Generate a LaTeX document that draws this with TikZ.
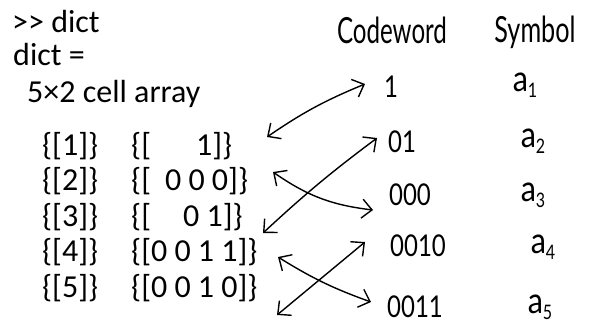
\documentclass[tikz,border=0pt]{standalone}
\usepackage{fontspec}
\setmainfont{Carlito}
\newfontfamily\hand{Lato}
\usetikzlibrary{arrows.meta}
\newcommand\hsq[2]{\scalebox{#1}[1]{#2}}
\newcommand\sym[1]{\hsq{0.85}{a}\raisebox{-0.35ex}{\fontsize{20}{20}\selectfont\hsq{0.8}{#1}}}
\begin{document}
\begin{tikzpicture}[x=1pt,y=-1pt,
  mono/.style={anchor=base west,inner sep=0pt,font=\fontsize{32}{32}\selectfont},
  hw/.style={inner sep=0pt,font=\hand\fontsize{30}{30}\selectfont},
  hd/.style={inner sep=0pt,font=\hand\fontsize{36}{36}\selectfont},
  hs/.style={inner sep=0pt,font=\hand\fontsize{36}{36}\selectfont},
  link/.style={line width=1.4pt,line cap=round,
    {Straight Barb[length=10pt,width=19pt,line width=1.4pt]}-{Straight Barb[length=10pt,width=19pt,line width=1.4pt]}}]
\useasboundingbox (0,0) rectangle (593,325);
% console text
\node[mono] (cmd) at (12,32) {>{}> dict};
\node[mono] (eq) at (13,65) {dict =};
\node[mono] (size) at (27,102) {5×2 cell array};
\node[mono] (k1) at (42,155) {\{[1]\}};
\node[mono] (k2) at (42,190) {\{[2]\}};
\node[mono] (k3) at (42,226) {\{[3]\}};
\node[mono] (k4) at (42,261) {\{[4]\}};
\node[mono] (k5) at (42,297) {\{[5]\}};
\node[mono] (v1) at (131,155) {\{[\hspace{45pt}1]\}};
\node[mono] (v2) at (131,190) {\{[\hspace{14pt}0 0 0]\}};
\node[mono] (v3) at (131,226) {\{[\hspace{32pt}0 1]\}};
\node[mono] (v4) at (131,261) {\{[0 0 1 1]\}};
\node[mono] (v5) at (131,297) {\{[0 0 1 0]\}};
% handwritten table
\node[hd] (hcode) at (392,30) {\hsq{0.67}{Codeword}};
\node[hd] (hsym) at (535,32) {\hsq{0.7}{Symbol}};
\node[hw] (c1) at (391,87) {\hsq{0.8}{1}};
\node[hw] (c2) at (402,142) {\hsq{0.8}{01}};
\node[hw] (c3) at (410,195) {\hsq{0.8}{000}};
\node[hw] (c4) at (418,246) {\hsq{0.8}{0010}};
\node[hw] (c5) at (415,307) {\hsq{0.8}{0011}};
\node[hs] (s1) at (525,85) {\sym{1}};
\node[hs] (s2) at (533,141) {\sym{2}};
\node[hs] (s3) at (533,195) {\sym{3}};
\node[hs] (s4) at (543,247) {\sym{4}};
\node[hs] (s5) at (540,307) {\sym{5}};
% arrow end points
\coordinate (pA1) at (267,137);
\coordinate (pA2) at (365,84);
\coordinate (pB1) at (263,233);
\coordinate (pB2) at (377,138);
\coordinate (pC1) at (273,172);
\coordinate (pC2) at (373,210);
\coordinate (pD1) at (277,315);
\coordinate (pD2) at (365,242);
\coordinate (pE1) at (278,257);
\coordinate (pE2) at (371,302);
\draw[link] (pA1) to[bend left=6] (pA2);
\draw[link] (pB1) to[bend left=3] (pB2);
\draw[link] (pC1) to[bend right=14] (pC2);
\draw[link] (pD1) to (pD2);
\draw[link] (pE1) to[bend right=6] (pE2);
\end{tikzpicture}
\end{document}
